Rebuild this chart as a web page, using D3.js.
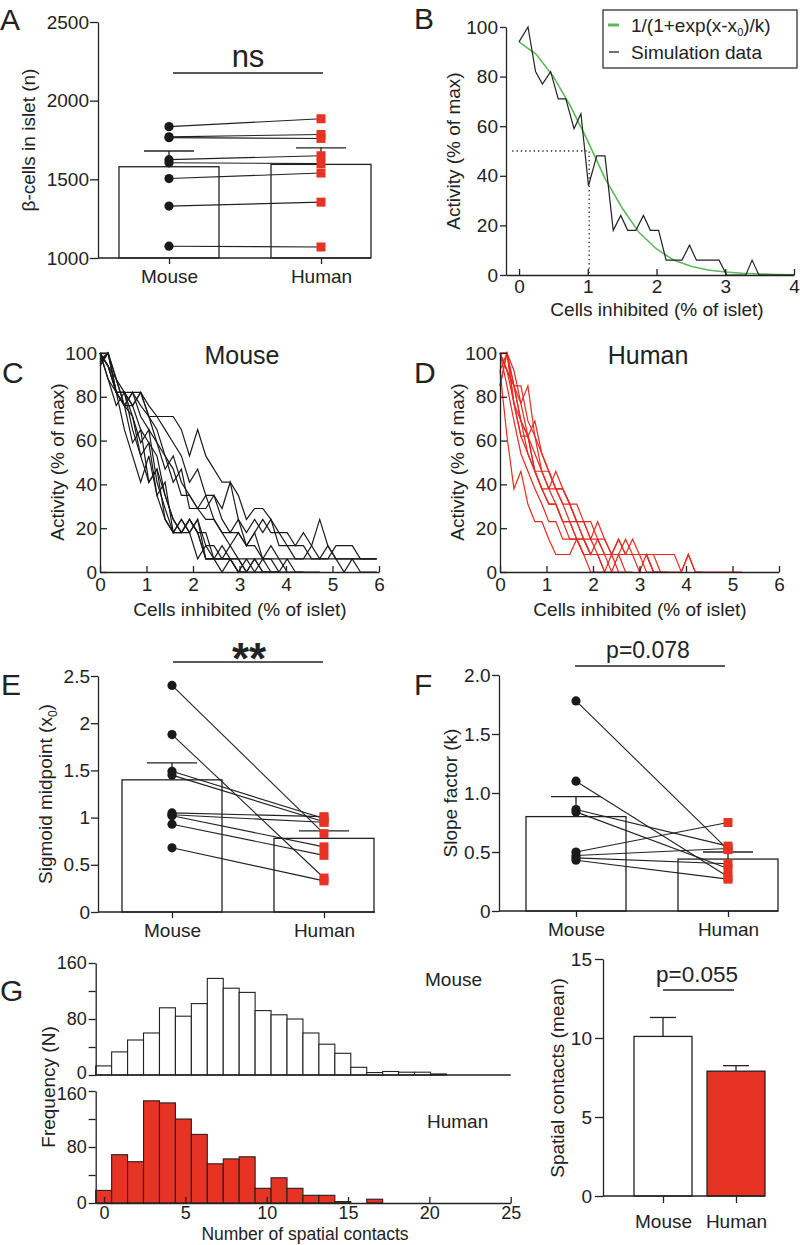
<!DOCTYPE html>
<html><head><meta charset="utf-8">
<script src="https://cdn.jsdelivr.net/npm/d3@7"></script>
<style>body{margin:0;background:#fff}svg text{font-family:"Liberation Sans",Arial,sans-serif;fill:#222}</style>
</head><body><script>
// ---------------- DATA ----------------
const groups = ["Mouse", "Human"];
// Panel A
const betaMouse = [1835, 1770, 1765, 1625, 1605, 1505, 1330, 1075];
const betaHuman = [1885, 1785, 1760, 1650, 1600, 1540, 1355, 1070];
const betaMean = [1580, 1595];
const betaErrTop = [1680, 1700];
const aTicks = [1000, 1500, 2000, 2500];
// Panel B
const simX = [0,0.13,0.24,0.34,0.46,0.57,0.68,0.80,0.90,1.01,1.13,1.25,1.37,1.48,1.58,1.70,1.81,1.91,2.03,2.14,2.25,2.37,2.48,2.58,2.70,2.81,2.91,3.02,3.30,3.39,3.49,4.0];
const simY = [94,100,82,77,82,71,71,59,65,36,48,48,18,24,18,18,24,18,18,6,6,6,12,6,6,6,6,0,0,6,0,0];
const fitX = [0,0.25,0.5,0.75,1,1.25,1.5,1.75,2,2.25,2.5,2.75,3,3.25,3.5,3.75,4];
const fitY = [94,89,80,68,54,39,27,17,10.5,6,3.5,2,1.2,0.7,0.4,0.2,0.1];
const midX0 = 1.02, midY = 50;
const bXTicks = [0,1,2,3,4];
const actTicks = [0,20,40,60,80,100];
// Panel C (mouse traces)
const mouseGrid = [0,0.175,0.35,0.525,0.7,0.875,1.05,1.225,1.4,1.575,1.75,1.925,2.1,2.275,2.45,2.625,2.8,2.975,3.15,3.325,3.5,3.675,3.85,4.025,4.2,4.375,4.55,4.725,4.9,5.075,5.25,5.425,5.6,5.775,5.95];
const mouseTraces = [
 [100,94,82,76,59,65,41,47,24,18,24,18,6,12,6,6,6,0,0,6,0,0,0],
 [94,100,82,76,71,53,59,35,41,18,24,18,24,6,6,12,6,0,6,0,0,0,0,0],
 [100,88,76,82,65,53,41,47,35,24,18,24,18,18,6,6,12,6,0,6,0,0],
 [97,100,82,76,76,65,59,53,35,24,18,18,24,12,12,6,6,6,0,0,6,0,0],
 [100,94,82,82,71,59,65,41,29,18,18,24,18,6,6,6,6,6,6,6,6,6,6,6,6,6,6,6,6,6,6,6,6,6,6],
 [100,94,82,82,76,82,71,59,53,41,47,29,29,35,24,18,18,24,12,18,6,12,6,0,0,0],
 [95,100,88,76,82,76,71,65,53,47,35,35,29,24,24,18,12,18,12,12,6,6,0,6,0,0,0,0],
 [100,100,88,82,76,82,76,71,71,71,65,53,65,53,47,41,41,35,24,29,29,24,18,18,12,18,12,6,12,6,6,6,6,6,6],
 [96,100,82,82,82,82,71,71,65,59,53,41,47,35,35,29,41,24,18,24,18,24,12,12,6,6,12,24,12,6,0,6,0,0,0],
 [100,94,88,76,82,71,65,59,47,53,41,35,29,29,35,24,18,18,12,18,24,18,18,12,12,12,6,6,6,12,12,12,6,6,6],
 [100,88,82,65,53,41,53,35,24,18,18,24,18,6,6,0,6,0,0]
];
// Panel D (human traces)
const humanGrid = [0,0.15,0.3,0.45,0.6,0.75,0.9,1.05,1.2,1.35,1.5,1.65,1.8,1.95,2.1,2.25,2.4,2.55,2.7,2.85,3.0,3.15,3.3,3.45,3.6,3.75,3.9,4.05,4.2,4.35,4.5,4.65,4.8,4.95,5.1,5.2];
const humanTraces = [
 [92,62,38,46,31,23,23,15,8,8,8,15,8,0,0,0],
 [100,100,85,69,62,54,46,38,31,23,23,15,15,8,8,8,0,8,0,0],
 [100,92,85,77,85,62,54,46,38,31,31,23,15,15,8,8,8,15,8,8,8,0,0],
 [85,100,92,77,62,69,54,46,38,38,31,31,23,15,23,15,8,8,8,8,0,8,0,0],
 [100,100,77,62,54,46,46,38,38,38,31,23,23,15,15,8,8,15,8,8,8,8,8,0,0],
 [92,100,85,85,69,62,46,46,38,31,23,23,15,8,15,8,8,8,8,15,8,8,0,0],
 [100,92,77,69,62,46,38,31,31,23,15,15,8,8,8,0,8,0,0],
 [100,92,85,69,54,46,38,38,46,38,31,23,23,23,15,15,8,8,15,8,8,8,8,8,8,8,0,8,0,0],
 [85,100,77,62,62,46,38,31,31,23,23,15,15,8,8,8,8,8,8,8,8,8,0,0,0,0,0,8,0,0,0,0,0,0,0,0],
 [100,85,69,54,46,38,31,23,23,15,15,15,8,8,8,0,0,0]
];
const cdXTicks = [0,1,2,3,4,5,6];
// Panel E
const x0Mouse = [2.40,1.88,1.49,1.45,1.05,1.03,1.02,0.93,0.68];
const x0Human = [0.83,0.36,0.99,0.955,1.01,0.95,0.69,0.60,0.33];
const x0Mean = [1.40, 0.78];
const x0ErrTop = [1.58, 0.86];
const eTicks = [0,0.5,1,1.5,2,2.5];
// Panel F
const kMouse = [1.78,1.10,0.86,0.84,0.50,0.47,0.45,0.43];
const kHuman = [0.52,0.29,0.55,0.36,0.75,0.53,0.40,0.27];
const kMean = [0.80, 0.44];
const kErrTop = [0.97, 0.50];
const fTicks = [0,0.5,1.0,1.5,2.0];
// Panel G histograms (bins of ~0.98 contacts starting at -0.51)
const histMouse = [13,33,50,60,96,84,102,138,124,118,92,86,80,60,44,31,11,3.5,5,4,4,1.5];
const histHuman = [18,69,59,146,143,120,98,56,63,66,21,36,21,11,11,2,0,5.4];
const histBinStart = -0.51, histBinWidth = 0.98;
const histYTicks = [0,40,80,120,160];
const histXTicks = [0,5,10,15,20,25];
// Panel G bar chart
const contactMean = [10.1, 7.9];
const contactErrTop = [11.3, 8.25];
const gTicks = [0,5,10,15];

// ---------------- DRAWING ----------------
const FONT = '"Liberation Sans", Arial, sans-serif';
const INK = "#222";
const RED = "#e63323";
const svg = d3.select("body").append("svg").attr("width", 800).attr("height", 1245)
  .style("background", "#fff");

function styleAxis(g, fs) {
  g.attr("font-family", FONT).attr("font-size", fs || 19);
  g.select(".domain").attr("stroke", INK).attr("stroke-width", 1.3);
  g.selectAll(".tick line").attr("stroke", INK).attr("stroke-width", 1.3);
  g.selectAll(".tick text").attr("fill", INK);
}
function yAxis(scale, x, ticks, fmt, size, pad, fs) {
  const g = svg.append("g").attr("transform", `translate(${x},0)`)
    .call(d3.axisLeft(scale).tickValues(ticks).tickFormat(fmt).tickSize(size).tickPadding(pad).tickSizeOuter(0));
  styleAxis(g, fs); return g;
}
function xAxisLin(scale, y, ticks, size, pad, fs) {
  const g = svg.append("g").attr("transform", `translate(0,${y})`)
    .call(d3.axisBottom(scale).tickValues(ticks).tickFormat(d3.format("d")).tickSize(size).tickPadding(pad).tickSizeOuter(0));
  styleAxis(g, fs); return g;
}
function catAxis(scale, y, x0, x1, size, pad) {
  const g = svg.append("g").attr("transform", `translate(0,${y})`)
    .call(d3.axisBottom(scale).tickSize(size).tickPadding(pad).tickSizeOuter(0));
  styleAxis(g);
  g.select(".domain").remove();
  svg.append("line").attr("x1", x0).attr("x2", x1).attr("y1", y).attr("y2", y)
    .attr("stroke", INK).attr("stroke-width", 1.3);
  return g;
}
function yLabel(x, y, parts, size) {
  const t = svg.append("text").attr("transform", `translate(${x},${y}) rotate(-90)`)
    .attr("text-anchor", "middle").attr("font-size", size || 19).attr("dy", "0.35em");
  parts.forEach(p => {
    const s = t.append("tspan").text(p.t);
    if (p.sub) s.attr("font-size", 12).attr("dy", 5);
    if (p.after) s.attr("dy", -5);
  });
}
function txt(x, y, s, size, anchor, weight) {
  return svg.append("text").attr("x", x).attr("y", y).attr("font-size", size)
    .attr("text-anchor", anchor || "middle").attr("font-weight", weight || "normal").text(s);
}
function panelLetter(x, y, s) { txt(x, y, s, 30, "start"); }

// Paired dot plot with bars
function pairedPanel(opt) {
  const { xs, ys, mouse, human, mean, err, barW, capW } = opt;
  svg.append("g").selectAll("rect").data(mean).join("rect")
    .attr("x", (d, i) => xs(groups[i]) - barW / 2).attr("width", barW)
    .attr("y", d => ys(d)).attr("height", d => ys(ys.domain()[0]) - ys(d))
    .attr("fill", "none").attr("stroke", INK).attr("stroke-width", 1.3);
  const eg = svg.append("g").attr("stroke", INK).attr("stroke-width", 1.3);
  mean.forEach((m, i) => {
    const cx = xs(groups[i]);
    eg.append("line").attr("x1", cx).attr("x2", cx).attr("y1", ys(m)).attr("y2", ys(err[i]));
    eg.append("line").attr("x1", cx - capW / 2).attr("x2", cx + capW / 2).attr("y1", ys(err[i])).attr("y2", ys(err[i]));
  });
  svg.append("g").selectAll("line").data(mouse.map((m, i) => [m, human[i]])).join("line")
    .attr("x1", xs("Mouse")).attr("x2", xs("Human"))
    .attr("y1", d => ys(d[0])).attr("y2", d => ys(d[1]))
    .attr("stroke", INK).attr("stroke-width", 1.1);
  svg.append("g").selectAll("circle").data(mouse).join("circle")
    .attr("cx", xs("Mouse")).attr("cy", d => ys(d)).attr("r", 4.6).attr("fill", "#1a1a1a");
  svg.append("g").selectAll("rect").data(human).join("rect")
    .attr("x", xs("Human") - 4.5).attr("y", d => ys(d) - 4.5).attr("width", 9).attr("height", 9).attr("fill", RED);
}

// ---- Panel A ----
{
  const ys = d3.scaleLinear().domain([1000, 2500]).range([258, 22]);
  const xs = d3.scalePoint().domain(groups).range([169, 321]);
  pairedPanel({ xs, ys, mouse: betaMouse, human: betaHuman, mean: betaMean, err: betaErrTop, barW: 100, capW: 50 });
  yAxis(ys, 98, aTicks, d3.format("d"), 8, 1);
  catAxis(xs, 258, 98, 371, 6, 6);
  yLabel(28, 140, [{ t: "β-cells in islet (n)" }]);
  svg.append("line").attr("x1", 173).attr("x2", 323).attr("y1", 73).attr("y2", 73).attr("stroke", INK).attr("stroke-width", 1.6);
  txt(248, 67, "ns", 31);
  panelLetter(0, 30, "A");
}

// ---- Panel B ----
{
  const xs = d3.scaleLinear().domain([-0.19, 4]).range([506, 794]);
  const ys = d3.scaleLinear().domain([0, 100]).range([275, 27]);
  svg.append("path").attr("d", `M${xs(-0.1)},${ys(midY)}H${xs(midX0)}V${ys(0)}`)
    .attr("fill", "none").attr("stroke", INK).attr("stroke-width", 1.3).attr("stroke-dasharray", "1.3,3");
  const line = d3.line().x(d => xs(d[0])).y(d => ys(d[1]));
  svg.append("path").attr("d", line(fitX.map((x, i) => [x, fitY[i]]))).attr("fill", "none")
    .attr("stroke", "#5cb85a").attr("stroke-width", 1.6);
  svg.append("path").attr("d", line(simX.map((x, i) => [x, simY[i]]))).attr("fill", "none")
    .attr("stroke", INK).attr("stroke-width", 1.2);
  yAxis(ys, 506, actTicks, d3.format("d"), 6, 2);
  xAxisLin(xs, 275, bXTicks, -6, 5);
  yLabel(453, 151, [{ t: "Activity (% of max)" }]);
  txt(657, 316, "Cells inhibited (% of islet)", 19);
  svg.append("rect").attr("x", 603).attr("y", 10).attr("width", 194).attr("height", 58)
    .attr("fill", "#fff").attr("stroke", INK).attr("stroke-width", 1.2);
  svg.append("line").attr("x1", 608).attr("x2", 619).attr("y1", 25).attr("y2", 25).attr("stroke", "#5cb85a").attr("stroke-width", 3);
  svg.append("line").attr("x1", 609).attr("x2", 619).attr("y1", 52).attr("y2", 52).attr("stroke", INK).attr("stroke-width", 1.3);
  const lt = svg.append("text").attr("x", 631).attr("y", 32).attr("font-size", 19);
  lt.append("tspan").text("1/(1+exp(x-x");
  lt.append("tspan").text("0").attr("font-size", 11).attr("dy", 4);
  lt.append("tspan").text(")/k)").attr("dy", -4);
  txt(631, 59, "Simulation data", 19, "start");
  panelLetter(414, 29, "B");
}

// ---- Panels C & D ----
function tracePanel(cfg) {
  const xs = d3.scaleLinear().domain([0, 6]).range([cfg.x0, cfg.x0 + 279]);
  const ys = d3.scaleLinear().domain([0, 100]).range([572, 353]);
  const g = svg.append("g");
  cfg.traces.forEach(tr => {
    const line = d3.line().x((d, i) => xs(cfg.grid[i])).y(d => ys(d));
    g.append("path").attr("d", line(tr)).attr("fill", "none").attr("stroke", cfg.color)
      .attr("stroke-width", 1.2).attr("stroke-linejoin", "miter");
  });
  yAxis(ys, cfg.x0, actTicks, d3.format("d"), -7, 3);
  xAxisLin(xs, 572, cdXTicks, -6, 6);
  yLabel(cfg.x0 - 43, 462, [{ t: "Activity (% of max)" }]);
  txt(cfg.x0 + 140, 616, "Cells inhibited (% of islet)", 19);
  txt(cfg.titleX, 364, cfg.title, 25);
}
tracePanel({ x0: 100, grid: mouseGrid, traces: mouseTraces, color: "#1a1a1a", title: "Mouse", titleX: 242 });
tracePanel({ x0: 500, grid: humanGrid, traces: humanTraces, color: "#e8281e", title: "Human", titleX: 648 });
panelLetter(2, 383, "C");
panelLetter(414, 383, "D");

// ---- Panel E ----
{
  const ys = d3.scaleLinear().domain([0, 2.5]).range([912, 676]);
  const xs = d3.scalePoint().domain(groups).range([172, 324]);
  pairedPanel({ xs, ys, mouse: x0Mouse, human: x0Human, mean: x0Mean, err: x0ErrTop, barW: 100, capW: 50 });
  yAxis(ys, 98, eTicks, d3.format("~g"), 7, 1);
  catAxis(xs, 912, 98, 375, 6, 6);
  yLabel(45, 794, [{ t: "Sigmoid midpoint (x" }, { t: "0", sub: true }, { t: ")", after: true }]);
  svg.append("line").attr("x1", 173).attr("x2", 323).attr("y1", 662).attr("y2", 662).attr("stroke", INK).attr("stroke-width", 1.6);
  txt(249, 674, "**", 44, "middle", "bold");
  panelLetter(1, 695, "E");
}

// ---- Panel F ----
{
  const ys = d3.scaleLinear().domain([0, 2.0]).range([911, 675]);
  const xs = d3.scalePoint().domain(groups).range([576, 728]);
  pairedPanel({ xs, ys, mouse: kMouse, human: kHuman, mean: kMean, err: kErrTop, barW: 100, capW: 50 });
  yAxis(ys, 499, fTicks, d => d === 0 ? "0" : d3.format(".1f")(d), 7, 1.5);
  catAxis(xs, 911, 499, 778, 6, 6);
  yLabel(450, 793, [{ t: "Slope factor (k)" }]);
  svg.append("line").attr("x1", 575).attr("x2", 725).attr("y1", 666).attr("y2", 666).attr("stroke", INK).attr("stroke-width", 1.6);
  txt(648, 658, "p=0.078", 23);
  panelLetter(414, 695, "F");
}

// ---- Panel G histograms ----
{
  const xs = d3.scaleLinear().domain([-0.51, 25]).range([95.7, 510.7]);
  const yTop = d3.scaleLinear().domain([0, 160]).range([1075, 963]);
  const yBot = d3.scaleLinear().domain([0, 160]).range([1203, 1091]);
  function hist(data, ys, fill) {
    svg.append("g").selectAll("rect").data(data).join("rect")
      .attr("x", (d, i) => xs(histBinStart + i * histBinWidth))
      .attr("width", xs(histBinWidth) - xs(0))
      .attr("y", d => ys(d)).attr("height", d => ys(0) - ys(d))
      .attr("fill", fill).attr("stroke", INK).attr("stroke-width", 1.1);
  }
  hist(histMouse, yTop, "#fff");
  hist(histHuman, yBot, RED);
  const hf = d => (d % 80 === 0 ? d3.format("d")(d) : "");
  const gt = yAxis(yTop, 95.7, histYTicks, hf, 7, 2, 18);
  gt.selectAll(".tick text").filter(d => d === 0).attr("dy", "0.2em");
  const gb = yAxis(yBot, 95.7, histYTicks, hf, 7, 2, 18);
  gb.selectAll(".tick text").filter(d => d === 160).attr("dy", "0.45em");
  svg.append("line").attr("x1", 95.7).attr("x2", xs(25)).attr("y1", 1075).attr("y2", 1075).attr("stroke", INK).attr("stroke-width", 1.3);
  xAxisLin(xs, 1203, histXTicks, -6, 3, 18);
  yLabel(48, 1087, [{ t: "Frequency (N)" }]);
  txt(305, 1240, "Number of spatial contacts", 17.5);
  txt(425, 986, "Mouse", 19, "start");
  txt(427, 1128, "Human", 19, "start");
  panelLetter(0, 1001, "G");
}

// ---- Panel G bar chart ----
{
  const ys = d3.scaleLinear().domain([0, 15]).range([1196, 959]);
  const xs = d3.scalePoint().domain(groups).range([663, 736]);
  const bw = 58;
  const eg = svg.append("g").attr("stroke", INK).attr("stroke-width", 1.3);
  contactMean.forEach((m, i) => {
    const cx = xs(groups[i]);
    eg.append("line").attr("x1", cx).attr("x2", cx).attr("y1", ys(m)).attr("y2", ys(contactErrTop[i]));
    eg.append("line").attr("x1", cx - 13).attr("x2", cx + 13).attr("y1", ys(contactErrTop[i])).attr("y2", ys(contactErrTop[i]));
  });
  svg.append("g").selectAll("rect").data(contactMean).join("rect")
    .attr("x", (d, i) => xs(groups[i]) - bw / 2).attr("width", bw)
    .attr("y", d => ys(d)).attr("height", d => ys(0) - ys(d))
    .attr("fill", (d, i) => i === 0 ? "#fff" : RED).attr("stroke", INK).attr("stroke-width", 1.3);
  yAxis(ys, 603, gTicks, d3.format("d"), 8, 3);
  catAxis(xs, 1196, 603, 765, 7, 12);
  yLabel(557, 1078, [{ t: "Spatial contacts (mean)" }]);
  svg.append("line").attr("x1", 663).attr("x2", 734).attr("y1", 990).attr("y2", 990).attr("stroke", INK).attr("stroke-width", 1.6);
  txt(697, 982, "p=0.055", 22.5);
}
</script></body></html>
